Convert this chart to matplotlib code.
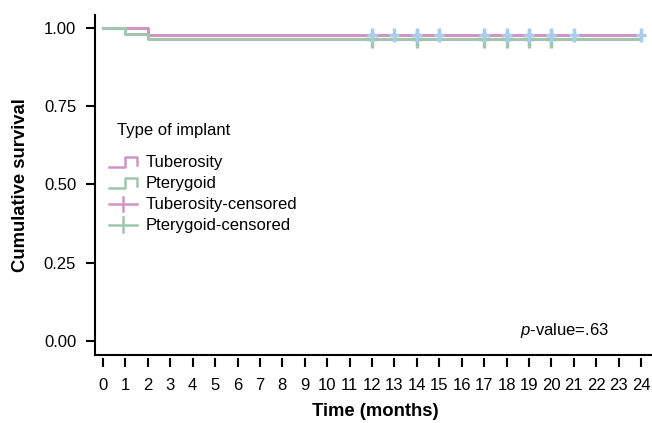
import numpy as np
import matplotlib
matplotlib.use("Agg")
import matplotlib.pyplot as plt
from matplotlib.lines import Line2D

plt.rcParams['font.family'] = ['Liberation Sans', 'DejaVu Sans']
plt.rcParams['mathtext.fontset'] = 'custom'
plt.rcParams['mathtext.rm'] = 'Liberation Sans'
plt.rcParams['mathtext.it'] = 'Liberation Sans:italic'

# survival steps
tub_time = [0, 2, 24]
tub_surv = [1.0, 0.978, 0.978]
pter_time = [0, 1, 2, 24]
pter_surv = [1.0, 0.981, 0.965, 0.965]

# censored cases
tub_cens_time = [12, 13, 14, 15, 17, 18, 19, 20, 21, 24]
tub_cens_surv = [0.978] * len(tub_cens_time)
pter_cens_time = [12, 14, 17, 18, 19, 20]
pter_cens_surv = [0.965] * len(pter_cens_time)

xticks = list(range(0, 25))
yticks = [0.0, 0.25, 0.50, 0.75, 1.0]
ytick_labels = ["0.00", "0.25", "0.50", "0.75", "1.00"]
legend_labels = ["Tuberosity", "Pterygoid", "Tuberosity-censored", "Pterygoid-censored"]

pink = '#cf95c3'
green = '#a0c6ad'
blue = '#aacdeb'

W, H = 652, 423
fig = plt.figure(figsize=(W / 100, H / 100), dpi=100)
ax = fig.add_axes([95 / W, 1 - 355 / H, 556 / W, 340 / H])

ax.step(tub_time, tub_surv, where='post', color=pink, lw=2.2, zorder=2)
ax.step(pter_time, pter_surv, where='post', color=green, lw=2.2, zorder=3)

# censor marks
ax.plot(pter_cens_time, pter_cens_surv, ls='none', marker='|', ms=13, mew=2.5, color=green, zorder=4)
ax.plot(pter_cens_time, pter_cens_surv, ls='none', marker='_', ms=8, mew=2.5, color=green, zorder=4)
ax.plot(tub_cens_time, tub_cens_surv, ls='none', marker='|', ms=10, mew=2.5, color=blue, zorder=5)
ax.plot(tub_cens_time, tub_cens_surv, ls='none', marker='_', ms=6.5, mew=2.5, color=blue, zorder=5)

ax.set_xlim(-0.357, 24.446)
ax.set_ylim(-0.0447, 1.0415)

for s in ['top', 'right']:
    ax.spines[s].set_visible(False)
for s in ['left', 'bottom']:
    ax.spines[s].set_linewidth(1.5)

ax.set_yticks(yticks)
ax.set_yticklabels(ytick_labels)
ax.tick_params(axis='y', direction='out', length=6.5, width=1.5, pad=7, labelsize=12)
ax.set_xticks([])

# x ticks sit a little below the axis line
sec = ax.secondary_xaxis(-0.009)
sec.spines['bottom'].set_visible(False)
sec.set_xticks(xticks)
sec.set_xticklabels([str(t) for t in xticks])
sec.tick_params(axis='x', direction='out', length=6.5, width=1.5, pad=8, labelsize=12)

fig.text(21 / W, 1 - 185 / H, "Cumulative survival", rotation=90, ha='center', va='center',
         fontsize=13.3, fontweight='bold')
fig.text(375 / W, 1 - 411 / H, "Time (months)", ha='center', va='center',
         fontsize=13.3, fontweight='bold')

ax.text((520 - 95) / 556, (355 - 330) / 340, r"$\it{p}$-value=.63", transform=ax.transAxes,
        ha='left', va='center', fontsize=12)

# legend, drawn by hand
def fx(x):
    return x / W

def fy(y):
    return 1 - y / H

fig.text(fx(117), fy(131), "Type of implant", ha='left', va='center', fontsize=12)
rows = [162, 183, 204, 225]
colors = [pink, green, pink, green]
for i, (lab, c, ry) in enumerate(zip(legend_labels, colors, rows)):
    if i < 2:
        xs = [109, 125, 125, 137, 137]
        ys = [ry + 5, ry + 5, ry - 5, ry - 5, ry + 3]
        fig.add_artist(Line2D([fx(v) for v in xs], [fy(v) for v in ys], color=c, lw=1.8,
                              transform=fig.transFigure))
    else:
        fig.add_artist(Line2D([fx(109), fx(137)], [fy(ry), fy(ry)], color=c, lw=1.8,
                              transform=fig.transFigure))
        fig.add_artist(Line2D([fx(123), fx(123)], [fy(ry - 7.5), fy(ry + 7.5)], color=c, lw=1.8,
                              transform=fig.transFigure))
    fig.text(fx(146), fy(ry), lab, ha='left', va='center', fontsize=12)

fig.savefig("out.png", dpi=100)
